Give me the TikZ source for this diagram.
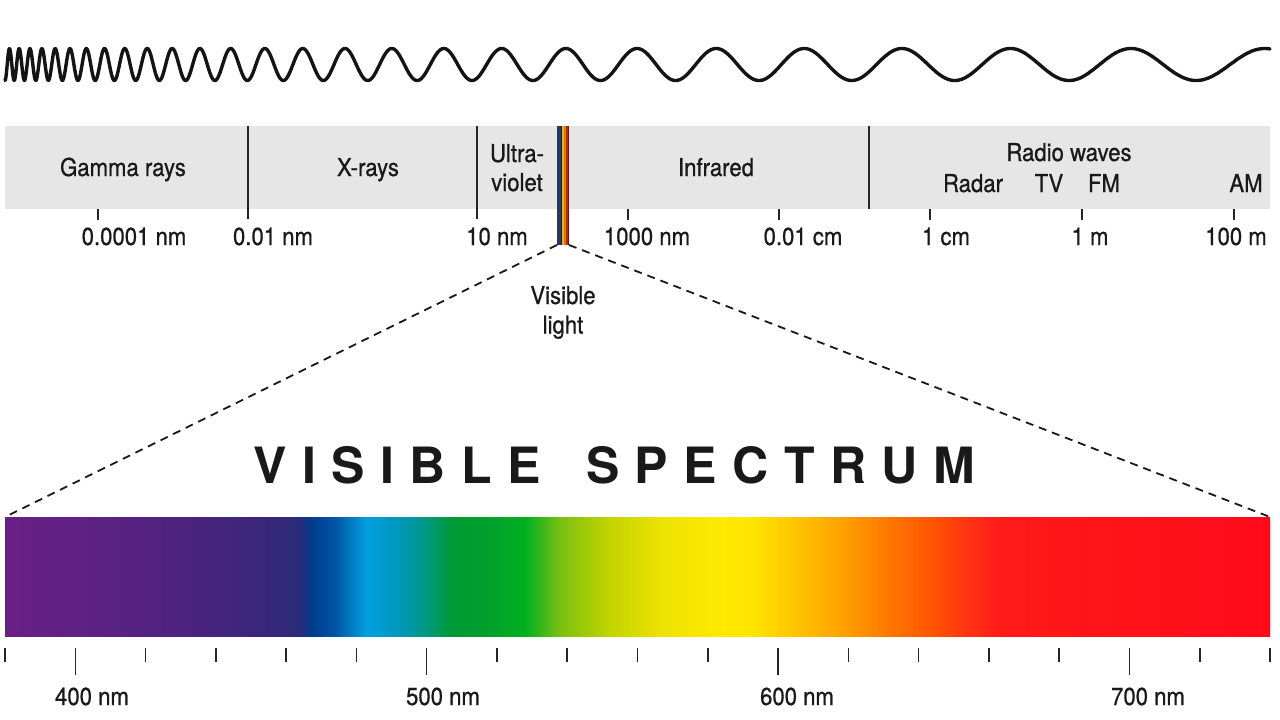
\documentclass[tikz,border=0pt]{standalone}
\usepackage{fontspec}
\setmainfont{TeX Gyre Heros}[FakeStretch=0.9, FakeBold=0.7]
\newfontfamily\titlefont{TeX Gyre Heros}[LetterSpace=31]
\definecolor{bandgray}{HTML}{E6E6E6}
\definecolor{s01}{HTML}{6B1F86}
\definecolor{s02}{HTML}{5B2183}
\definecolor{s03}{HTML}{4A237E}
\definecolor{s04}{HTML}{32287A}
\definecolor{s05}{HTML}{262C7C}
\definecolor{s06}{HTML}{003C8E}
\definecolor{s07}{HTML}{0055A5}
\definecolor{s08}{HTML}{00A0E0}
\definecolor{s09}{HTML}{0098C0}
\definecolor{s10}{HTML}{009890}
\definecolor{s11}{HTML}{009838}
\definecolor{s12}{HTML}{00A02A}
\definecolor{s13}{HTML}{00B020}
\definecolor{s14}{HTML}{7AC010}
\definecolor{s15}{HTML}{C4D400}
\definecolor{s16}{HTML}{ECE200}
\definecolor{s17}{HTML}{FFE900}
\definecolor{s18}{HTML}{FFE600}
\definecolor{s19}{HTML}{FFC400}
\definecolor{s20}{HTML}{FF9E00}
\definecolor{s21}{HTML}{FF7200}
\definecolor{s22}{HTML}{FF5500}
\definecolor{s23}{HTML}{FF3512}
\definecolor{s24}{HTML}{FF1A18}
\definecolor{s25}{HTML}{FF0A1A}
\definecolor{vnavy}{HTML}{24386C}
\definecolor{vdark}{HTML}{1E1E2A}
\definecolor{vyellow}{HTML}{F2B400}
\definecolor{vorange}{HTML}{E87010}
\definecolor{vred}{HTML}{B82818}
\definecolor{vbrown}{HTML}{5A1E12}
\pgfdeclarehorizontalshading{visspec}{100bp}{color(0bp)=(s01); color(25bp)=(s01); color(28.75bp)=(s02); color(32.71bp)=(s03); color(36.07bp)=(s04); color(36.66bp)=(s05); color(37.13bp)=(s06); color(38.04bp)=(s07); color(39.31bp)=(s08); color(40.42bp)=(s09); color(41.41bp)=(s10); color(42.59bp)=(s11); color(44.17bp)=(s12); color(45.55bp)=(s13); color(46.94bp)=(s14); color(48.91bp)=(s15); color(50.89bp)=(s16); color(53.26bp)=(s17); color(54.45bp)=(s18); color(56.23bp)=(s19); color(58.20bp)=(s20); color(60.18bp)=(s21); color(61.56bp)=(s22); color(62.94bp)=(s23); color(64.33bp)=(s24); color(75bp)=(s25); color(100bp)=(s25)}
\tikzset{
  lab/.style={font=\fontsize{24.6}{29}\selectfont, inner sep=0pt, anchor=base, text=black!90},
  wave/.style={line width=3.4pt, line cap=round, line join=round, black!92},
  divider/.style={line width=1.5pt, black!85},
  tickmark/.style={line width=1.5pt, black!85},
  guide/.style={line width=1.8pt, dash pattern=on 8pt off 6pt, black!90},
}
\begin{document}
\begin{tikzpicture}[x=1pt,y=-1pt]
\useasboundingbox (0,0) rectangle (1280,720);
% top wave
\draw[wave] plot[domain=5:1270, samples=2600, variable=\t] (\t, {64.5 + 16*cos(360*ln((8.2+0.105*\t)/8.725)/0.105)});
% band
\fill[bandgray] (5,126) rectangle (1270,209);
\draw[divider] (248,126) -- (248,219);
\draw[divider] (477,126) -- (477,219);
\draw[divider] (869,126) -- (869,209);
\foreach \xx in {98,628,779,930,1082,1234} \draw[tickmark] (\xx,209) -- (\xx,220);
% visible light stripe
\fill[vnavy] (557,126) rectangle (560.5,245);
\fill[vdark] (560.5,126) rectangle (561.5,245);
\fill[vyellow] (561.5,126) rectangle (563.5,245);
\fill[vorange] (563.5,126) rectangle (565.5,245);
\fill[vred] (565.5,126) rectangle (567.5,245);
\fill[vbrown] (567.5,126) rectangle (569,245);
% band labels
\node[lab] (gamma) at (123,176) {Gamma rays};
\node[lab] (xray) at (368,176) {X-rays};
\node[lab] (uv1) at (517,162) {Ultra-};
\node[lab] (uv2) at (517,191) {violet};
\node[lab] (ir) at (716,176) {Infrared};
\node[lab] (radio) at (1069,161) {Radio waves};
\node[lab] (radar) at (973,192) {Radar};
\node[lab] (tv) at (1049,192) {TV};
\node[lab] (fm) at (1104,192) {FM};
\node[lab] (am) at (1246,192) {AM};
% scale labels
\node[lab] (w1) at (134,245) {0.0001 nm};
\node[lab] (w2) at (273,245) {0.01 nm};
\node[lab] (w3) at (497,245) {10 nm};
\node[lab] (w4) at (647,245) {1000 nm};
\node[lab] (w5) at (803,245) {0.01 cm};
\node[lab] (w6) at (946,245) {1 cm};
\node[lab] (w7) at (1090,245) {1 m};
\node[lab] (w8) at (1236,245) {100 m};
% visible light label
\node[lab] (vis1) at (563,304) {Visible};
\node[lab] (vis2) at (563,333.5) {light};
% guides
\coordinate (vl) at (557,245);
\coordinate (vr) at (569,245);
\coordinate (sl) at (5,517);
\coordinate (sr) at (1270,517);
\draw[guide] (vl) -- (sl);
\draw[guide] (vr) -- (sr);
% title
\node[inner sep=0pt, anchor=base west, font=\titlefont\bfseries\fontsize{50}{56}\selectfont, text=black!90] (title) at (253,483) {VISIBLE\hspace{16pt} SPECTRUM};
% spectrum bar
\shade[shading=visspec] (5,517) rectangle (1270,636);
% spectrum ticks
\foreach \i in {0,...,18} {
  \pgfmathsetmacro{\xx}{5+70.28*\i}
  \draw[tickmark] (\xx,648) -- (\xx,662);
}
\foreach \xx in {75.3,426.7,778.1,1129.5} \draw[tickmark] (\xx,648) -- (\xx,675);
\node[lab] (n400) at (92,705) {400 nm};
\node[lab] (n500) at (443,705) {500 nm};
\node[lab] (n600) at (797,705) {600 nm};
\node[lab] (n700) at (1148,705) {700 nm};
\end{tikzpicture}
\end{document}
